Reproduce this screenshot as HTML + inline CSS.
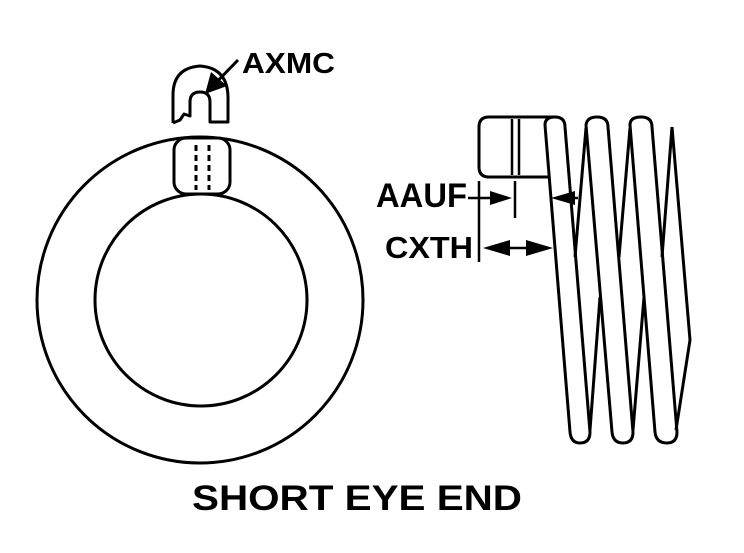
<!DOCTYPE html>
<html><head><meta charset="utf-8"><style>html,body{margin:0;padding:0;background:#fff}svg{display:block}</style></head>
<body>
<svg width="744" height="553" viewBox="0 0 744 553" xmlns="http://www.w3.org/2000/svg">
<g fill="none" stroke="#000" stroke-width="3" stroke-linejoin="round">
<circle cx="200" cy="300" r="163"/>
<circle cx="201" cy="300" r="106" fill="#fff"/>
<rect x="174" y="138" width="56" height="56" rx="12" fill="#fff"/>
<path d="M196 145 V190 M209 145 V190" stroke-dasharray="6,4" stroke-width="3"/>
<path d="M173 123 V95 Q173 68 200 66 Q228 68 228 98 V122 H210 V102 Q210 92 200 92 Q190 92 190 102 V116 L184 114 L180 120 L173 123" fill="#fff"/>
<path d="M238 60 L206 93"/>
<path d="M549 177 H489 Q479 177 479 167 V127 Q479 117 489 117 H555"/>
<path d="M512 119 V175 M519 119 V175" stroke-width="2.5"/>
<path d="M545 125 Q545 117 555 117 Q565 117 565 127 L590 432 Q590 443 580 443 Q571 443 570 432 Z" fill="#fff"/>
<path d="M586 125 Q587 117 597 117 Q608 117 608 127 L633 432 Q633 443 623 443 Q613 443 612 432 Z"/>
<path d="M630 125 Q630 117 641 117 Q652 117 652 127 L677 432 Q677 443 667 443 Q656 443 655 432 Z"/>
<path d="M586 128 L575 257 M600 297 L590 430"/>
<path d="M630 128 L619 257 M644 297 L633 430"/>
<path d="M672 127 L662 257 M672 127 L690 340 L676 430"/>
<path d="M479 181 V262 M515 181 V218" stroke-width="2.5"/>
<path d="M468 198 H500 M560 198 H578 M495 248 H540" stroke-width="2.5"/>
</g>
<g fill="#000">
<polygon points="512,198 490,191 490,205"/>
<polygon points="551,198 575,191 575,205"/>
<polygon points="483,248 510,240 510,256"/>
<polygon points="553,248 526,240 526,256"/>
<polygon points="205,94 211,72 227,86"/>
</g>
<g font-family="Liberation Sans, Arial, sans-serif" font-weight="bold" fill="#000">
<text x="242" y="73" font-size="29" textLength="93" lengthAdjust="spacingAndGlyphs">AXMC</text>
<text x="376" y="207" font-size="34" textLength="91" lengthAdjust="spacingAndGlyphs">AAUF</text>
<text x="385" y="258" font-size="31" textLength="88" lengthAdjust="spacingAndGlyphs">CXTH</text>
<text x="192" y="510" font-size="35" textLength="330" lengthAdjust="spacingAndGlyphs">SHORT EYE END</text>
</g>
</svg>
</body></html>
